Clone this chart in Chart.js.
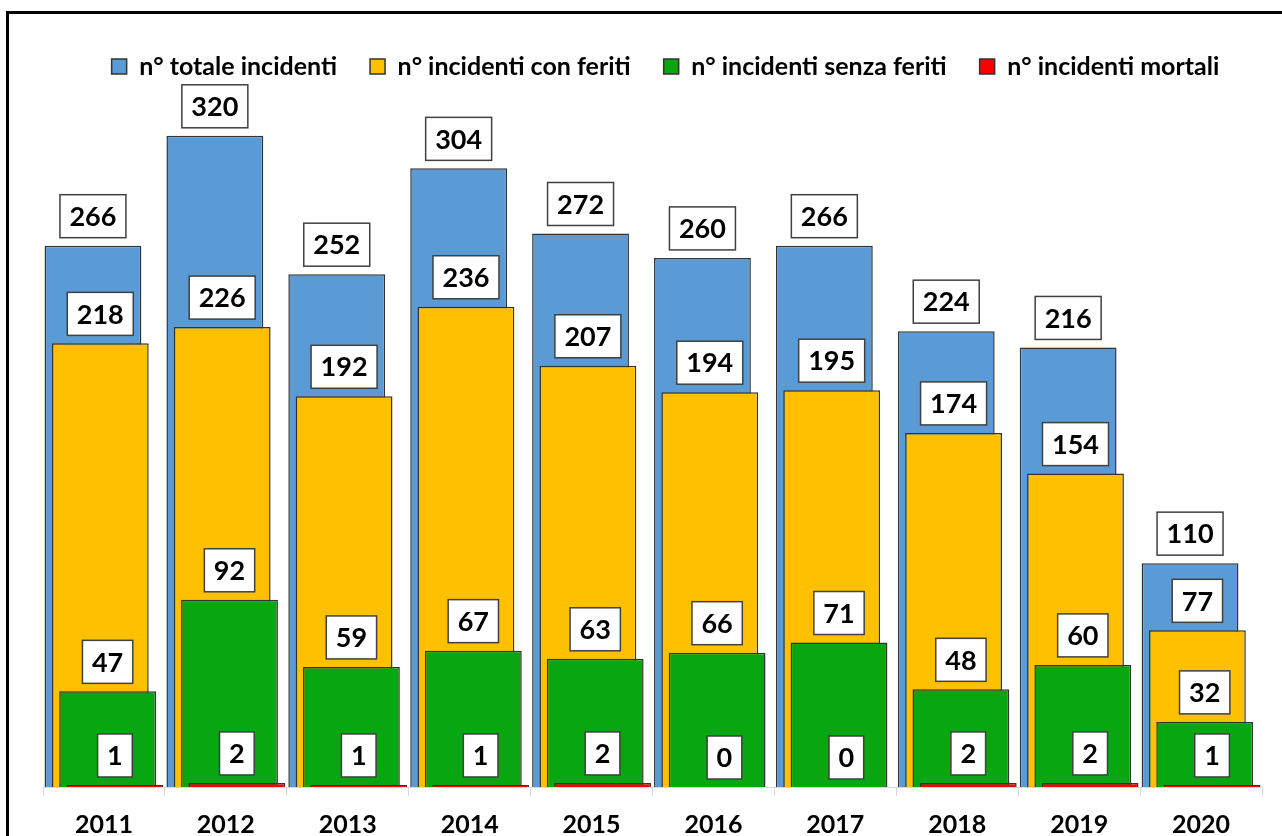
<!DOCTYPE html>
<html>
<head>
<meta charset="utf-8">
<script src="https://cdn.jsdelivr.net/npm/chart.js@4/dist/chart.umd.min.js"></script>
<style>
  html, body { margin: 0; padding: 0; background: #ffffff; overflow: hidden; width: 1282px; height: 836px; }
  #frame { position: absolute; left: 6px; top: 11px; width: 1400px; height: 900px; border-left: 3px solid #000; border-top: 3px solid #000; }
  #wrap { position: absolute; left: 0; top: 0; width: 1282px; height: 880px; }
</style>
</head>
<body>
<div id="frame"></div>
<div id="wrap"><canvas id="c" width="1282" height="880"></canvas></div>
<script>
const years = ['2011', '2012', '2013', '2014', '2015', '2016', '2017', '2018', '2019', '2020'];
const seriesNames = ['n° totale incidenti', 'n° incidenti con feriti', 'n° incidenti senza feriti', 'n° incidenti mortali'];
const totale = [266, 320, 252, 304, 272, 260, 266, 224, 216, 110];
const conFeriti = [218, 226, 192, 236, 207, 194, 195, 174, 154, 77];
const senzaFeriti = [47, 92, 59, 67, 63, 66, 71, 48, 60, 32];
const mortali = [1, 2, 1, 1, 2, 0, 0, 2, 2, 1];
const colors = ['#5B9BD5', '#FFC000', '#08A711', '#FF0000'];

Chart.defaults.font.family = 'Lato, "Open Sans", sans-serif';
Chart.defaults.color = '#000000';

const drawOrderPlugin = {
  id: 'drawOrder',
  beforeDatasetsDraw(chart) {
    for (let i = 0; i < chart.data.datasets.length; i++) {
      if (chart.isDatasetVisible(i)) chart.getDatasetMeta(i).controller.draw();
    }
    return false;
  }
};

const legendShiftPlugin = {
  id: 'legendShift',
  afterLayout(chart) {
    if (chart.legend) { chart.legend.left += 13; chart.legend.right += 13; }
  }
};

const labelPlugin = {
  id: 'boxLabels',
  afterDraw(chart) {
    const ctx = chart.ctx;
    ctx.save();
    ctx.font = 'bold 27px Lato, "Open Sans", sans-serif';
    ctx.textAlign = 'center';
    ctx.textBaseline = 'middle';
    chart.data.datasets.forEach((ds, di) => {
      const meta = chart.getDatasetMeta(di);
      meta.data.forEach((el, i) => {
        const txt = String(ds.data[i]);
        const w = ctx.measureText(txt).width + 19;
        const h = 43;
        const bottom = el.y - 8;
        const left = el.x - w / 2;
        ctx.fillStyle = '#ffffff';
        ctx.fillRect(left, bottom - h, w, h);
        ctx.lineWidth = 1.5;
        ctx.strokeStyle = '#404040';
        ctx.strokeRect(left, bottom - h, w, h);
        ctx.fillStyle = '#000000';
        ctx.fillText(txt, el.x, bottom - h / 2 + 1);
      });
    });
    ctx.restore();
  }
};

const seriesData = [totale, conFeriti, senzaFeriti, mortali];

new Chart(document.getElementById('c'), {
  type: 'bar',
  data: {
    labels: years,
    datasets: seriesData.map((d, k) => ({
      label: seriesNames[k],
      data: d,
      backgroundColor: colors[k],
      borderColor: '#333333',
      borderWidth: 1.5,
      borderSkipped: 'start',
      categoryPercentage: 0.2407,
      barPercentage: 13.2
    }))
  },
  options: {
    responsive: false,
    animation: false,
    layout: { padding: { top: 21, left: 43, right: 20, bottom: 26 } },
    plugins: {
      legend: {
        position: 'top',
        labels: {
          boxWidth: 15,
          boxHeight: 15,
          padding: 33,
          color: '#000000',
          font: { size: 25, weight: 'bold' }
        }
      },
      tooltip: { enabled: false }
    },
    scales: {
      x: {
        offset: true,
        grid: { display: true, drawOnChartArea: false, drawTicks: true, tickLength: 9, color: '#d9d9d9', offset: true },
        border: { display: true, color: '#d9d9d9', width: 1 },
        ticks: { color: '#000000', padding: 14, font: { size: 25, weight: 'bold' } }
      },
      y: {
        display: false,
        min: 0,
        max: 343
      }
    }
  },
  plugins: [drawOrderPlugin, legendShiftPlugin, labelPlugin]
});
</script>
</body>
</html>
